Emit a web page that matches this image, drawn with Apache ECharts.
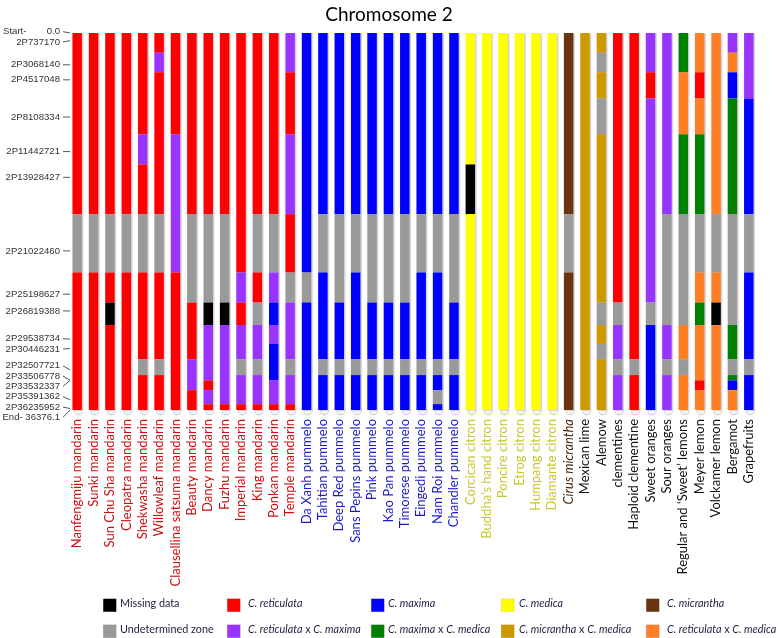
<!DOCTYPE html>
<html><head><meta charset="utf-8">
<script src="https://cdn.jsdelivr.net/npm/echarts/dist/echarts.min.js"></script>
<style>html,body{margin:0;padding:0;background:#fff}#c{width:778px;height:638px}</style>
</head><body><div id="c"></div>
<script>
// ---------- data ----------
const accessions = ['Nanfengmiju mandarin','Sunki mandarin','Sun Chu Sha mandarin','Cleopatra mandarin','Shekwasha mandarin','Willowleaf mandarin','Clausellina satsuma mandarin','Beauty mandarin','Dancy mandarin','Fuzhu mandarin','Imperial mandarin','King mandarin','Ponkan mandarin','Temple mandarin',
 'Da Xanh pummelo','Tahitian pummelo','Deep Red pummelo','Sans Pepins pummelo','Pink pummelo','Kao Pan pummelo','Timorese pummelo','Eingedi pummelo','Nam Roi pummelo','Chandler pummelo',
 'Corcican citron','Buddha\u2019s hand citron','Poncire citron','Etrog citron','Humpang citron','Diamante citron',
 'Cirus micrantha','Mexican lime','Alemow','clementines','Haploid clementine','Sweet oranges','Sour oranges','Regular and \u2018Sweet\u2019 lemons','Meyer lemon','Volckamer lemon','Bergamot','Grapefruits'];
const accessionGroups = ['ret','ret','ret','ret','ret','ret','ret','ret','ret','ret','ret','ret','ret','ret',
 'max','max','max','max','max','max','max','max','max','max',
 'med','med','med','med','med','med',
 'mic','oth','oth','oth','oth','oth','oth','oth','oth','oth','oth','oth'];
const markerNames = ['2P737170','2P3068140','2P4517048','2P8108334','2P11442721','2P13928427','2P21022460','2P25198627','2P26819388','2P29538734','2P30446231','2P32507721','2P33506778','2P33532337','2P35391362','2P36235952'];
const markerPosKb = [737.170,3068.140,4517.048,8108.334,11442.721,13928.427,21022.460,25198.627,26819.388,29538.734,30446.231,32507.721,33506.778,33532.337,35391.362,36235.952];
const chromStart = 0.0;
const chromEnd = 36376.1;
// one letter per marker (top to bottom)
const genotypes = [
 'RRRRRRGRRRRRRRRR','RRRRRRGRRRRRRRRR','RRRRRRGRKRRRRRRR','RRRRRRGRRRRRRRRR','RRRRPRGRRRRGRRRR','RPRRRRGRRRRGRRRR','RRRRPPPRRRRRRRRR','RRRRRRGGRRRPPPRR','RRRRRRGGKPPPPRPR','RRRRRRGGKPPPPPPR','RRRRRRRPRPPGPPPR','RRRRRRGRGPPGPPPR','RRRRRRGPBPBBBPPR','PPRRPPRGPPPGPPPR',
 'BBBBBBBGBBBBBBBB','BBBBBBGBBBBGBBBB','BBBBBBGGBBBGBBBB','BBBBBBGBBBBGBBBB','BBBBBBGGBBBGBBBB','BBBBBBGGBBBGBBBB','BBBBBBGGBBBGBBBB','BBBBBBGBBBBGBBBB','BBBBBBGBBBBGBBGB','BBBBBBGGBBBGBBBB',
 'YYYYYKYYYYYYYYYY','YYYYYYYYYYYYYYYY','YYYYYYYYYYYYYYYY','YYYYYYYYYYYYYYYY','YYYYYYYYYYYYYYYY','YYYYYYYYYYYYYYYY',
 'WWWWWWGWWWWWWWWW','DDDDDDDDDDDDDDDD','DGDGDDDDGDGDDDDD','RRRRRRRRGPPGPPPP','RRRRRRRRRRRGRRRR','PPRPPPPPGBBBBBBB','PPPPPPGGGPPGPPPP','NNOONNGGGOOGOOOO','OORONNGONOOOOROO','OOOOOOGOKOOOOOOO','POBNNNGGGNNGNBOO','PPPBBBGBBBBGBBBB'];
const legendCodes = ['K','R','B','Y','W','G','P','N','D','O'];
const legendLabels = ['Missing data','{i|C. reticulata}','{i|C. maxima}','{i|C. medica}','{i|C. micrantha}','Undetermined zone','{i|C. reticulata} x {i|C. maxima}','{i|C. maxima} x {i|C. medica}','{i|C. micrantha} x {i|C. medica}','{i|C. reticulata} x {i|C. medica}'];

// ---------- styles ----------
const colorOf = {R:'#ff0000',B:'#0000ff',Y:'#ffff00',K:'#000000',G:'#9a9a9a',P:'#9933ff',N:'#008000',O:'#ff7f27',W:'#6b3410',D:'#cc9900'};
const labelColorOf = {ret:'#cc1010',max:'#1a1acc',med:'#c8c830',mic:'#4a2508',oth:'#111111'};
const LEG_FS = 10.8;
const Y_FS = 9.6;

// ---------- build ----------
const bounds = [chromStart];
for (let i = 1; i < markerPosKb.length; i++) bounds.push((markerPosKb[i-1] + markerPosKb[i]) / 2);
bounds.push(chromEnd);

const segData = [];
genotypes.forEach((g, c) => {
  let s = 0;
  for (let i = 1; i <= g.length; i++) {
    if (i === g.length || g[i] !== g[s]) {
      segData.push({value: [c, bounds[s], bounds[i]], itemStyle: {color: colorOf[g[s]]}});
      s = i;
    }
  }
});
const shadowData = accessions.map((a, c) => [c, chromStart, chromEnd]);
const yLabelTexts = ['0.0'].concat(markerNames, ['End- 36376.1']);
const yLabelPos = [chromStart].concat(markerPosKb, [chromEnd]);

function spread(ys, gap) {
  let groups = ys.map((y, i) => ({idx: [i], c: y}));
  let changed = true;
  while (changed) {
    changed = false;
    for (let k = 0; k < groups.length - 1; k++) {
      const a = groups[k], b = groups[k+1];
      const aB = a.c + (a.idx.length - 1) * gap / 2;
      const bT = b.c - (b.idx.length - 1) * gap / 2;
      if (bT - aB < gap - 0.01) {
        const idx = a.idx.concat(b.idx);
        const c = idx.reduce((s, j) => s + ys[j], 0) / idx.length;
        groups.splice(k, 2, {idx, c});
        changed = true; break;
      }
    }
  }
  const out = [];
  groups.forEach(g => g.idx.forEach((j, n) => { out[j] = g.c + (n - (g.idx.length - 1) / 2) * gap; }));
  return out;
}

const BAR = 0.58;
const chart = echarts.init(document.getElementById('c'), null, {renderer: 'canvas'});
const legendGraphics = [];
const legX = [103, 227, 371, 501, 646];
const legTX = [120, 248, 388, 519, 667];
const legY = [605, 631];
legendCodes.forEach((code, k) => {
  const col = k % 5, row = Math.floor(k / 5);
  legendGraphics.push({type: 'rect', left: legX[col], top: legY[row] - 6.5, shape: {width: 13, height: 13}, style: {fill: colorOf[code], stroke: 'rgba(0,0,0,0.15)', lineWidth: 0.5}});
  legendGraphics.push({type: 'text', left: legTX[col], top: legY[row] - 7, style: {text: legendLabels[k], fontFamily: 'Lato', fontSize: LEG_FS, fill: '#1c1c40',
    rich: {i: {fontStyle: 'italic', fontFamily: 'Lato', fontSize: LEG_FS, fill: '#1c1c40'}}}});
});

chart.setOption({
  animation: false,
  title: {text: 'Chromosome 2', left: 'center', top: 0, textStyle: {fontFamily: 'Lato', fontSize: 19, fontWeight: 'normal', color: '#000'}},
  grid: {left: 69, right: 21, top: 33, bottom: 228},
  xAxis: {type: 'category', data: accessions, axisLine: {show: false}, axisTick: {show: false}, splitLine: {show: false},
    axisLabel: {interval: 0, rotate: 90, margin: 9, fontFamily: 'Lato', fontSize: 13,
      color: (v, i) => labelColorOf[accessionGroups[i]],
      formatter: (v, i) => accessionGroups[i] === 'mic' ? '{it|' + v + '}' : v,
      rich: {it: {fontStyle: 'italic', fontFamily: 'Lato', fontSize: 13, color: labelColorOf.mic}}}},
  yAxis: {type: 'value', inverse: true, min: chromStart, max: chromEnd, axisLine: {show: false}, axisTick: {show: false}, axisLabel: {show: false}, splitLine: {show: false}},
  graphic: legendGraphics,
  series: [
    {type: 'custom', data: shadowData, z: 1, renderItem: (p, api) => {
      const a = api.coord([api.value(0), api.value(1)]), b = api.coord([api.value(0), api.value(2)]);
      const w = api.size([1, 0])[0] * BAR;
      return {type: 'group', children: [
        {type: 'rect', shape: {x: a[0] - w / 2 + 1.5, y: a[1] + 0.5, width: w, height: b[1] - a[1] + 5, r: [0, 0, 5, 5]}, style: {fill: '#d4d4d4'}},
        {type: 'rect', shape: {x: a[0] - w / 2 + 2.5, y: b[1] + 1, width: w - 2, height: 3, r: [0, 0, 3, 3]}, style: {fill: '#f4f4f4'}}
      ]};
    }},
    {type: 'custom', data: segData, z: 2, renderItem: (p, api) => {
      const a = api.coord([api.value(0), api.value(1)]), b = api.coord([api.value(0), api.value(2)]);
      const w = api.size([1, 0])[0] * BAR;
      return {type: 'rect', shape: {x: a[0] - w / 2, y: a[1], width: w, height: b[1] - a[1]}, style: {fill: api.visual('color')}};
    }},
    {type: 'custom', data: yLabelPos.map((v, i) => [0, v]), z: 3, renderItem: (p, api) => {
      const i = p.dataIndex;
      const ys = yLabelPos.map(v => api.coord([0, v])[1]);
      const ly = spread(ys, 10.3);
      const gx = api.coord([0, 0])[0] - api.size([1, 0])[0] / 2;
      const ch = [
        {type: 'text', style: {text: yLabelTexts[i], x: gx - 9, y: ly[i], align: 'right', verticalAlign: 'middle', fontFamily: 'Liberation Sans', fontSize: Y_FS, fill: '#333'}},
        {type: 'line', shape: {x1: gx - 6, y1: ly[i], x2: gx + 1, y2: ys[i]}, style: {stroke: '#555', lineWidth: 1}}
      ];
      if (i === 0) ch.push({type: 'text', style: {text: 'Start-', x: 3, y: ly[i], align: 'left', verticalAlign: 'middle', fontFamily: 'Liberation Sans', fontSize: Y_FS, fill: '#333'}});
      return {type: 'group', children: ch};
    }}
  ]
});
</script></body></html>
